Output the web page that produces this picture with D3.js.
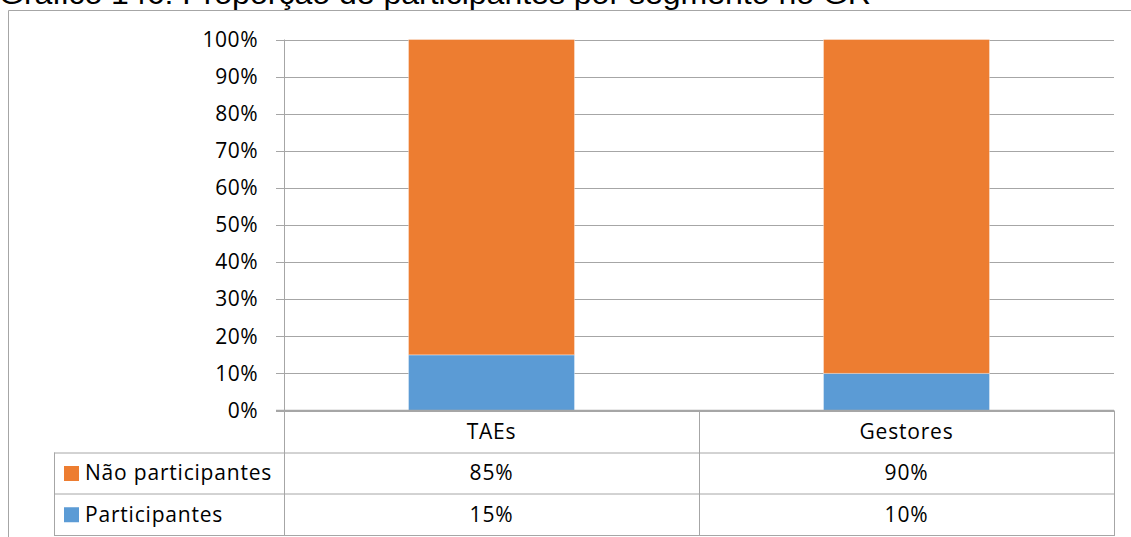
<!DOCTYPE html>
<html>
<head>
<meta charset="utf-8">
<script src="https://cdn.jsdelivr.net/npm/d3@7"></script>
<style>
  html, body { margin: 0; padding: 0; background: #fff; }
  svg { display: block; }
</style>
</head>
<body>
<svg id="chart" width="1131" height="537"></svg>
<script>
// ---- data ----
const titleText = "Gráfico 146: Proporção de participantes por segmento no GR";
const categories = ["TAEs", "Gestores"];
const seriesNames = ["Participantes", "Não participantes"];
const participantes = [15, 10];
const naoParticipantes = [85, 90];
const yTickValues = [0, 10, 20, 30, 40, 50, 60, 70, 80, 90, 100];
const seriesColors = ["#5B9BD5", "#ED7D31"];

// ---- layout ----
const W = 1131, H = 537;
const plotL = 284, plotR = 1114, plotT = 39.5, plotB = 410.5;
const rowBounds = [410.5, 452.5, 493.5, 535];
const legendL = 54;
const gridColor = "#a6a6a6";
const font = "'Open Sans', sans-serif";
const ls = "0.8px";

const svg = d3.select("#chart");

// outer frame
svg.append("line").attr("x1", 8.5).attr("x2", W).attr("y1", 10.5).attr("y2", 10.5)
  .attr("stroke", "#a6a6a6").attr("stroke-width", 1);
svg.append("line").attr("x1", 8.5).attr("x2", 8.5).attr("y1", 10.5).attr("y2", H)
  .attr("stroke", "#a6a6a6").attr("stroke-width", 1);

// title (partly cut off at top, as in the reference)
svg.append("text").attr("x", -1).attr("y", 4)
  .attr("font-family", "'Liberation Sans', Arial, sans-serif")
  .attr("font-size", 30).attr("fill", "#000")
  .attr("textLength", 872).attr("lengthAdjust", "spacingAndGlyphs")
  .text(titleText);

const x = d3.scaleBand().domain(categories).range([plotL, plotR])
  .paddingInner(0.6).paddingOuter(0.3);
const y = d3.scaleLinear().domain([0, 100]).range([plotB, plotT]);

// gridlines
svg.append("g").selectAll("line").data(yTickValues).join("line")
  .attr("x1", plotL - 8).attr("x2", plotR)
  .attr("y1", d => Math.round(y(d)) + 0.5).attr("y2", d => Math.round(y(d)) + 0.5)
  .attr("stroke", gridColor).attr("stroke-width", 1);

// y axis via d3 axis (labels only)
const yAxis = d3.axisLeft(y).tickValues(yTickValues).tickFormat(d => d + "%")
  .tickSize(0).tickPadding(26);
const gy = svg.append("g").attr("transform", `translate(${plotL},0)`).call(yAxis);
gy.select(".domain").remove();
gy.selectAll("text").attr("font-family", font).attr("font-size", 21).attr("fill", "#000")
  .style("letter-spacing", "0.5px");

// stacked bars
const tableData = categories.map((c, i) => ({ cat: c, Participantes: participantes[i], "Não participantes": naoParticipantes[i] }));
const stack = d3.stack().keys(seriesNames)(tableData);
svg.append("g").selectAll("g").data(stack).join("g")
  .attr("fill", (d, i) => seriesColors[i])
  .selectAll("rect").data(d => d).join("rect")
  .attr("x", d => x(d.data.cat))
  .attr("width", x.bandwidth())
  .attr("y", d => y(d[1]))
  .attr("height", d => y(d[0]) - y(d[1]))
  .attr("stroke", "#fff").attr("stroke-opacity", 0.35).attr("stroke-width", 1);

// baseline (0%) redrawn above bars
svg.append("line").attr("x1", plotL - 8).attr("x2", plotR)
  .attr("y1", plotB).attr("y2", plotB).attr("stroke", gridColor).attr("stroke-width", 1.5);

// data table lines
const tl = svg.append("g").attr("stroke", gridColor).attr("stroke-width", 1);
tl.append("line").attr("x1", plotL + 0.5).attr("x2", plotL + 0.5).attr("y1", plotT).attr("y2", rowBounds[3]);
const step = x.step();
const bounds = [plotL + step, plotR];
tl.selectAll(".vb").data(bounds).join("line")
  .attr("x1", d => d + 0.5).attr("x2", d => d + 0.5)
  .attr("y1", rowBounds[0]).attr("y2", rowBounds[3]);
tl.append("line").attr("x1", legendL + 0.5).attr("x2", legendL + 0.5)
  .attr("y1", rowBounds[1]).attr("y2", rowBounds[3]);
tl.selectAll(".hr").data(rowBounds.slice(1)).join("line")
  .attr("x1", legendL).attr("x2", plotR + 1)
  .attr("y1", d => d + 0.5).attr("y2", d => d + 0.5);

// category header labels
svg.append("g").selectAll("text").data(categories).join("text")
  .attr("x", d => x(d) + x.bandwidth() / 2)
  .attr("y", (rowBounds[0] + rowBounds[1]) / 2)
  .attr("dy", "0.35em").attr("text-anchor", "middle")
  .attr("font-family", font).attr("font-size", 21).attr("fill", "#000")
  .style("letter-spacing", ls)
  .text(d => d);

// table rows: Não participantes (row 2), Participantes (row 3)
const rows = [
  { name: seriesNames[1], values: naoParticipantes, color: seriesColors[1] },
  { name: seriesNames[0], values: participantes, color: seriesColors[0] }
];
rows.forEach((r, ri) => {
  const cy = (rowBounds[ri + 1] + rowBounds[ri + 2]) / 2;
  svg.append("rect").attr("x", 64).attr("y", cy - 7).attr("width", 15).attr("height", 15)
    .attr("fill", r.color);
  svg.append("text").attr("x", 85).attr("y", cy).attr("dy", "0.35em")
    .attr("font-family", font).attr("font-size", 21).attr("fill", "#000")
    .style("letter-spacing", ls)
    .text(r.name);
  svg.append("g").selectAll("text").data(r.values).join("text")
    .attr("x", (d, i) => x(categories[i]) + x.bandwidth() / 2)
    .attr("y", cy).attr("dy", "0.35em").attr("text-anchor", "middle")
    .attr("font-family", font).attr("font-size", 21).attr("fill", "#000")
    .style("letter-spacing", ls)
    .text(d => d + "%");
});
</script>
</body>
</html>
